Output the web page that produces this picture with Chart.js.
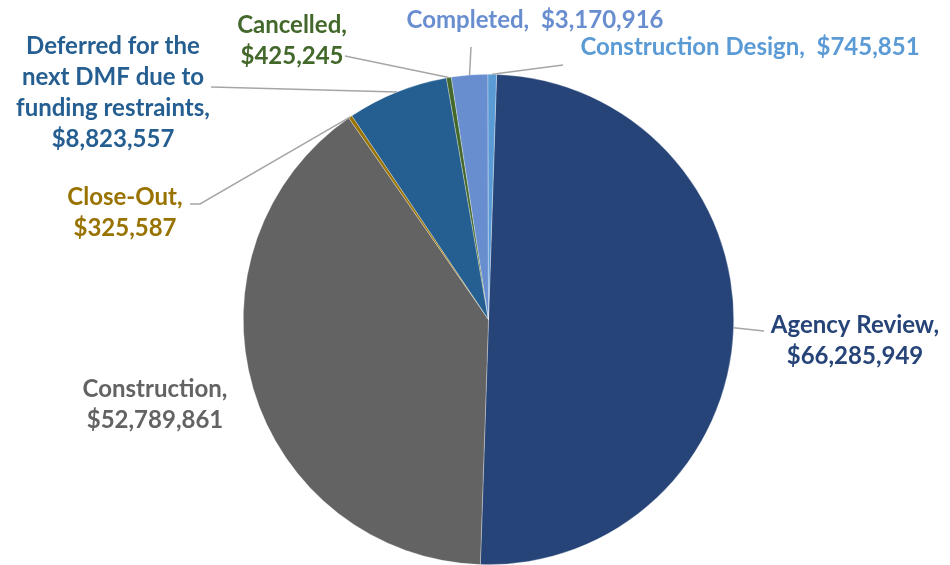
<!DOCTYPE html>
<html>
<head>
<meta charset="utf-8">
<script src="https://cdn.jsdelivr.net/npm/chart.js@4.4.0/dist/chart.umd.min.js"></script>
<style>
  html, body { margin: 0; padding: 0; background: #ffffff; }
  #wrap { width: 950px; height: 565px; position: relative; }
</style>
</head>
<body>
<div id="wrap"><canvas id="pie"></canvas></div>
<script>
// data
const categories = ['Agency Review', 'Construction', 'Close-Out',
    'Deferred for the next DMF due to funding restraints', 'Cancelled',
    'Completed', 'Construction Design'];
const amounts = [66285949, 52789861, 325587, 8823557, 425245, 3170916, 745851];
const sliceColors = ['#264478', '#636363', '#997300', '#255e91', '#43682b', '#698ed0', '#5b9bd5'];
const labelColors = ['#264478', '#636363', '#997300', '#255e91', '#43682b', '#698ed0', '#5b9bd5'];

// label text, one entry per line
const labelLines = [
    ['Agency Review,', '$66,285,949'],
    ['Construction,', '$52,789,861'],
    ['Close-Out,', '$325,587'],
    ['Deferred for the', 'next DMF due to', 'funding restraints,', '$8,823,557'],
    ['Cancelled,', '$425,245'],
    ['Completed,  $3,170,916'],
    ['Construction Design,  $745,851']
];

// where each label sits (center x, first baseline) and where its leader starts
const labelAt = [
    { x: 855, y: 333, leader: [[764, 331]] },
    { x: 155, y: 397, leader: null },
    { x: 125, y: 205, leader: [[190, 204], [200, 204]] },
    { x: 113, y: 54, leader: [[211, 87]] },
    { x: 292, y: 33, leader: [[345, 56]] },
    { x: 535, y: 28, leader: [[471, 47]] },
    { x: 750, y: 55, leader: [[563, 65]] }
];

const fontSize = 24;
const lineGap = 31;

const calloutPlugin = {
    id: 'callouts',
    afterDatasetsDraw(chart) {
        const ctx = chart.ctx;
        const arcs = chart.getDatasetMeta(0).data;
        ctx.save();
        arcs.forEach(function(arc, i) {
            const pos = labelAt[i];
            // leader line to the middle of the slice's rim
            if (pos.leader) {
                const mid = (arc.startAngle + arc.endAngle) / 2;
                const ex = arc.x + Math.cos(mid) * arc.outerRadius;
                const ey = arc.y + Math.sin(mid) * arc.outerRadius;
                ctx.beginPath();
                ctx.strokeStyle = '#a6a6a6';
                ctx.lineWidth = 1.5;
                ctx.moveTo(pos.leader[0][0], pos.leader[0][1]);
                for (let k = 1; k < pos.leader.length; k++) {
                    ctx.lineTo(pos.leader[k][0], pos.leader[k][1]);
                }
                ctx.lineTo(ex, ey);
                ctx.stroke();
            }
            ctx.fillStyle = labelColors[i];
            ctx.font = 'bold ' + fontSize + 'px Lato, "Open Sans", sans-serif';
            ctx.textAlign = 'center';
            ctx.textBaseline = 'alphabetic';
            labelLines[i].forEach(function(line, j) {
                ctx.fillText(line, pos.x, pos.y + j * lineGap);
            });
        });
        ctx.restore();
    }
};

new Chart(document.getElementById('pie'), {
    type: 'pie',
    data: {
        labels: categories,
        datasets: [{
            data: amounts,
            backgroundColor: sliceColors,
            borderColor: 'rgba(255,255,255,0.6)',
            borderWidth: 0.5
        }]
    },
    options: {
        responsive: true,
        maintainAspectRatio: false,
        animation: false,
        rotation: 1.9,
        layout: { padding: { left: 243, right: 216, top: 74, bottom: 0 } },
        plugins: {
            legend: { display: false },
            tooltip: { enabled: false }
        }
    },
    plugins: [calloutPlugin]
});
</script>
</body>
</html>
